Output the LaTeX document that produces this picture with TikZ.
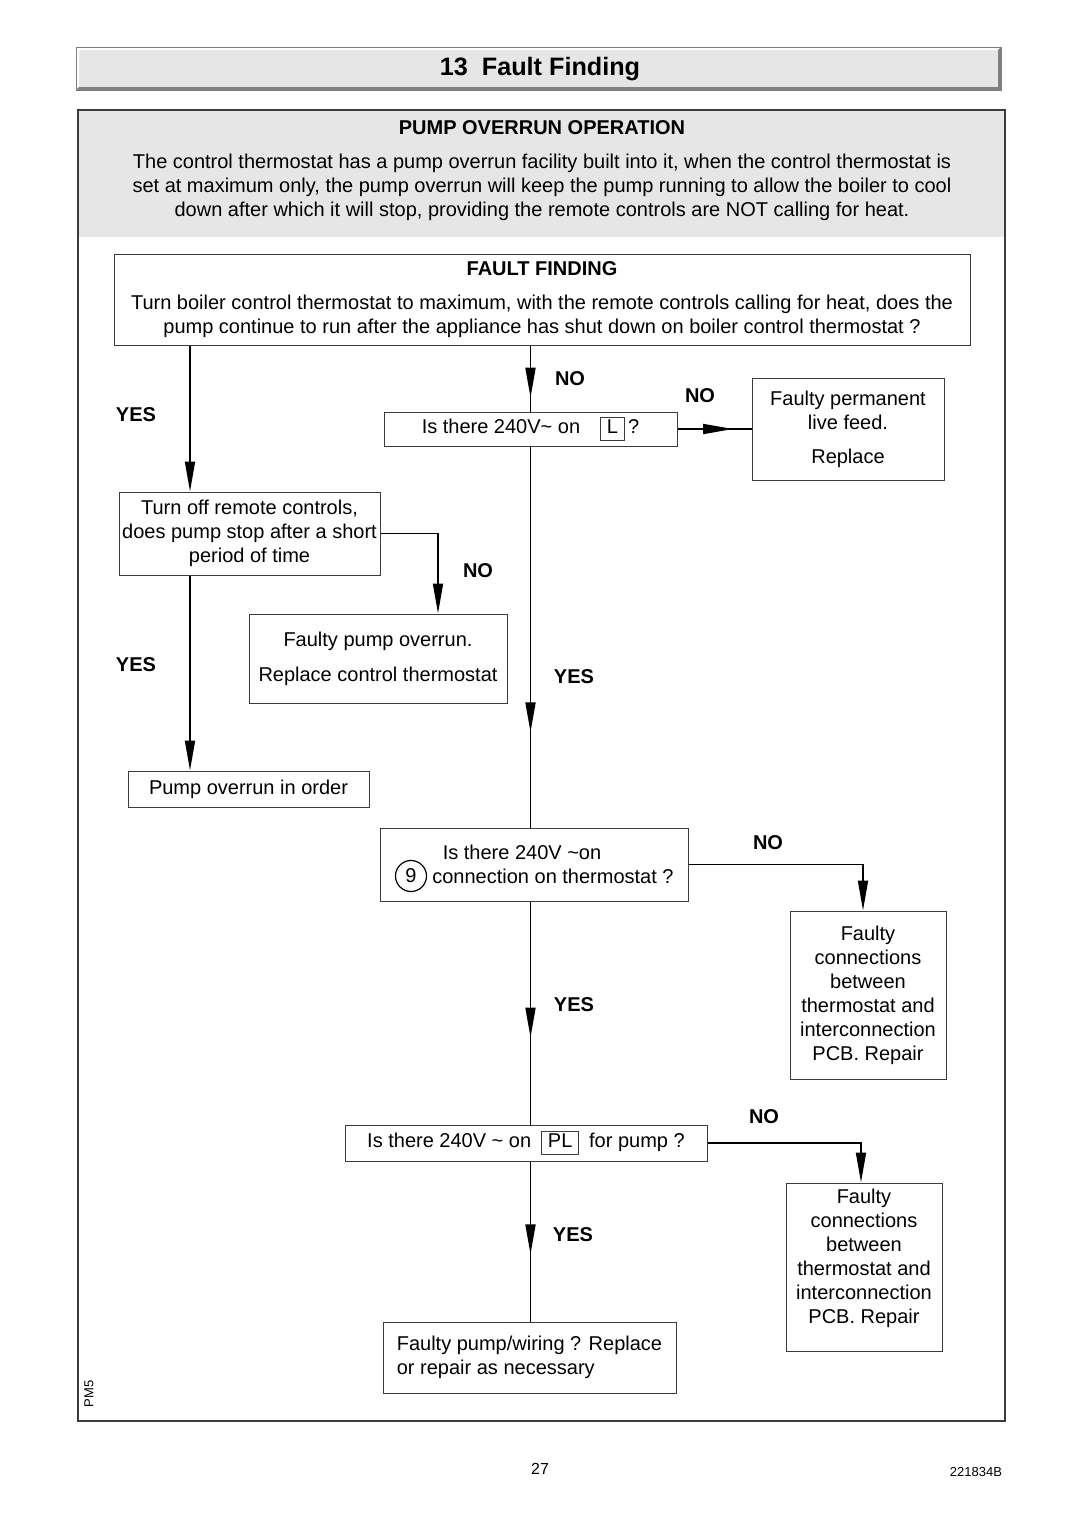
\documentclass[tikz,border=0pt]{standalone}
\usepackage{fontspec}
\setmainfont{Liberation Sans}
\usetikzlibrary{arrows.meta,decorations.markings}
\definecolor{panel}{HTML}{E6E6E6}
\definecolor{rim}{HTML}{3C3C3C}
\newcommand\terminal[1]{{\setlength{\fboxsep}{1.2pt}\setlength{\fboxrule}{0.5pt}\fcolorbox{rim}{white}{\,#1\,\rule[-2pt]{0pt}{8.8pt}}}}
\begin{document}
\begin{tikzpicture}[x=0.5pt,y=-0.5pt,
  txt/.style={font=\fontsize{10}{12}\selectfont},
  box/.style={txt,draw=rim,line width=0.5pt,align=center,inner sep=0pt},
  yn/.style={font=\fontsize{10}{12}\selectfont\bfseries},
  conn/.style={line width=0.9pt},
  toarrow/.style={-{Triangle[length=15pt,width=5pt]}},
  midtip/.style={postaction={decorate},decoration={markings,
    mark=at position #1 with {\arrow{Triangle[length=15pt,width=5pt]}}}}]
  \useasboundingbox (0,0) rectangle (1080,1528);
  % title bar
  \fill[panel] (76,47) rectangle (1001,90);
  \fill[white] (76,47) -- (1001,47) -- (998,50) -- (79,50) -- (79,87) -- (76,90) -- cycle;
  \fill[gray] (1001,47) -- (1001,90) -- (76,90) -- (79,87) -- (998,87) -- (998,50) -- cycle;
  \draw[gray,line width=0.3pt] (76,47) rectangle (1001,90);
  \node[font=\fontsize{12.6}{14}\selectfont\bfseries] (title) at (540,69) {13\ \ Fault Finding};
  % frame
  \fill[panel] (78,110) rectangle (1005,237);
  \draw[rim,line width=0.6pt] (78,110) rectangle (1005,1421);
  \node[yn] (pophead) at (542,128) {PUMP OVERRUN OPERATION};
  \node[txt,align=center] (poptext) at (542,187) {The control thermostat has a pump overrun facility built into it, when the control thermostat is\\
    set at maximum only, the pump overrun will keep the pump running to allow the boiler to cool\\
    down after which it will stop, providing the remote controls are NOT calling for heat.};
  % boxes
  \node[box,minimum width=428pt,minimum height=45.5pt] (ff) at (542,299.5)
    {\textbf{FAULT FINDING}\\[5pt] Turn boiler control thermostat to maximum, with the remote controls calling for heat, does the\\
     pump continue to run after the appliance has shut down on boiler control thermostat ?};
  \node[box,minimum width=146.5pt,minimum height=17pt] (q1) at (530.5,429)
    {Is there 240V\textasciitilde{} on\quad\terminal{L}\,?};
  \node[box,minimum width=96pt,minimum height=51pt] (live) at (848,429)
    {Faulty permanent\\ live feed.\\[5pt] Replace};
  \node[box,minimum width=130.5pt,minimum height=41.5pt] (turnoff) at (249.5,533.5)
    {Turn off remote controls,\\ does pump stop after a short\\ period of time};
  \node[box,minimum width=129pt,minimum height=44.5pt] (overrun) at (378,658.5)
    {Faulty pump overrun.\\[5.5pt] Replace control thermostat};
  \node[box,minimum width=120.5pt,minimum height=18pt] (inorder) at (248.5,789)
    {Pump overrun in order};
  \node[box,minimum width=154pt,minimum height=36.5pt] (q2) at (534,864.5)
    {Is there 240V \textasciitilde on\hspace*{12pt}\\ \hspace*{19pt}connection on thermostat ?};
  \node[txt,draw=black,line width=0.6pt,circle,minimum size=15.5pt,inner sep=0pt] (pin) at (411,876) {9};
  \node[box,minimum width=78pt,minimum height=84pt] (conn1) at (868,995)
    {Faulty\\ connections\\ between\\ thermostat and\\ interconnection\\ PCB. Repair};
  \node[box,minimum width=181pt,minimum height=18pt] (q3) at (526,1143)
    {Is there 240V \textasciitilde{} on\enspace\terminal{PL}\enspace for pump ?};
  \node[box,minimum width=78pt,minimum height=84pt] (conn2) at (864,1267)
    {Faulty\\ connections\\ between\\ thermostat and\\ interconnection\\ PCB. Repair\rule[-10.5pt]{0pt}{1pt}};
  \node[box,align=left,minimum width=146.5pt,minimum height=35.5pt] (pump) at (529.5,1357.5)
    {Faulty pump/wiring ? Replace\\ or repair as necessary};
  % connectors
  \draw[conn,toarrow] (ff.south -| 190,0) -- (turnoff.north -| 190,0);
  \draw[conn,midtip=0.79] (ff.south -| q1) -- (q1.north);
  \draw[conn,midtip=0.75] (q1.east) -- (live.west);
  \draw[conn,toarrow] (turnoff.east) -| (overrun.north -| 438,0);
  \draw[conn,toarrow] (turnoff.south -| 190,0) -- (inorder.north -| 190,0);
  \draw[conn,midtip=0.75] (q1.south) -- (q2.north -| q1);
  \draw[conn,toarrow] (q2.east) -| (conn1.north -| 863,0);
  \draw[conn,midtip=0.61] (q2.south -| q1) -- (q3.north -| q1);
  \draw[conn,toarrow] (q3.east) -| (conn2.north -| 861,0);
  \draw[conn,midtip=0.58] (q3.south -| q1) -- (pump.north -| q1);
  % labels
  \node[yn] (yes1) at (136,415) {YES};
  \node[yn] (no1) at (570,379) {NO};
  \node[yn] (no2) at (700,396) {NO};
  \node[yn] (no3) at (478,571) {NO};
  \node[yn] (yes2) at (136,665) {YES};
  \node[yn] (yes3) at (574,677) {YES};
  \node[yn] (no4) at (768,843) {NO};
  \node[yn] (yes4) at (574,1005) {YES};
  \node[yn] (no5) at (764,1117) {NO};
  \node[yn] (yes5) at (573,1235) {YES};
  % footer
  \node[font=\fontsize{6.5}{8}\selectfont,rotate=90] (code) at (89,1394) {PM5};
  \node[font=\fontsize{8}{10}\selectfont] (page) at (540,1469) {27};
  \node[font=\fontsize{6.5}{8}\selectfont] (ref) at (976,1472) {221834B};
\end{tikzpicture}
\end{document}
